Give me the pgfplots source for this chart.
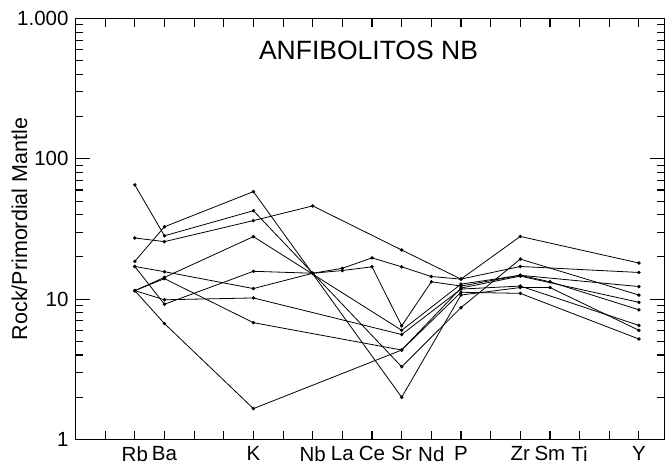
\documentclass[border=0pt]{standalone}
\usepackage{pgfplots}
\pgfplotsset{compat=1.18}
\usepackage{fontspec}
\setmainfont{Liberation Sans}
\begin{document}
\fontsize{20.5bp}{24bp}\selectfont
\begin{tikzpicture}
\path[use as bounding box] (0,0) rectangle (665bp,466bp);
\begin{axis}[
  at={(75.5bp,26.5bp)}, anchor=south west,
  scale only axis, width=589.5bp, height=421bp,
  xmin=0, xmax=19.88, ymin=1, ymax=1000, ymode=log,
  axis line style={line width=1.3bp},
  tick align=inside,
  xtick={1,...,19},
  xticklabels={,Rb,Ba,,,K,,Nb,La,Ce,Sr,Nd,P,,Zr,Sm,Ti,,Y},
  ytick={1,10,100,1000}, yticklabels={1,10,100,1.000},
  major tick length=9bp, minor tick length=8bp,
  ytick style={/pgfplots/major tick length=15bp},
  tick style={line width=1.1bp, black},
  every axis y label/.style={at={(axis description cs:0,0.5)}, xshift=-56bp, rotate=90, anchor=center, font=\fontsize{21.5bp}{24bp}\selectfont},
  ylabel={Rock/Primordial Mantle},
  every axis plot post/.append style={black, solid, line width=0.8bp, mark=*, mark size=1.3bp, mark options={solid, fill=black, draw=black}},
]
% S1
\addplot coordinates {(2,65.2) (3,28.3) (6,42.7) (11,3.3) (13,8.7) (15,19.3) (19,10.7)};
% S2
\addplot coordinates {(2,18.6) (3,32.8) (6,58.4) (11,2.0) (13,10.7) (15,12.1) (16,12.1) (19,6.0)};
% S3
\addplot coordinates {(2,27.3) (3,25.7) (6,36.3) (8,46.2) (11,22.4) (13,13.9) (15,28.0) (19,18.1)};
% S4
\addplot coordinates {(2,17.1) (3,15.7) (6,11.9) (8,15.3) (9,16.6) (10,19.7) (11,17.0) (12,14.5) (13,13.9) (15,17.1) (19,15.5)};
% S5
\addplot coordinates {(2,17.1) (3,9.2) (6,15.8) (8,15.3) (9,16.0) (10,17.0) (11,6.45) (12,13.3) (13,12.4) (15,14.8) (16,13.3) (19,8.4)};
% S6
\addplot coordinates {(2,11.5) (3,14.3) (6,27.9) (11,6.0) (13,12.8) (15,14.8) (19,12.3)};
% S7
\addplot coordinates {(2,11.5) (3,14.0) (6,6.8) (11,4.34) (13,12.0) (15,14.6) (19,9.5)};
% S8
\addplot coordinates {(2,11.5) (3,9.9) (6,10.2) (11,5.6) (13,11.8) (15,12.4) (19,6.5)};
% S9
\addplot coordinates {(2,11.5) (3,6.7) (6,1.66) (11,4.34) (13,11.2) (15,11.0) (19,5.2)};
\node[font=\fontsize{26.5bp}{30bp}\selectfont] at (axis description cs:0.497,0.925) {ANFIBOLITOS NB};
\end{axis}
\end{tikzpicture}
\end{document}
